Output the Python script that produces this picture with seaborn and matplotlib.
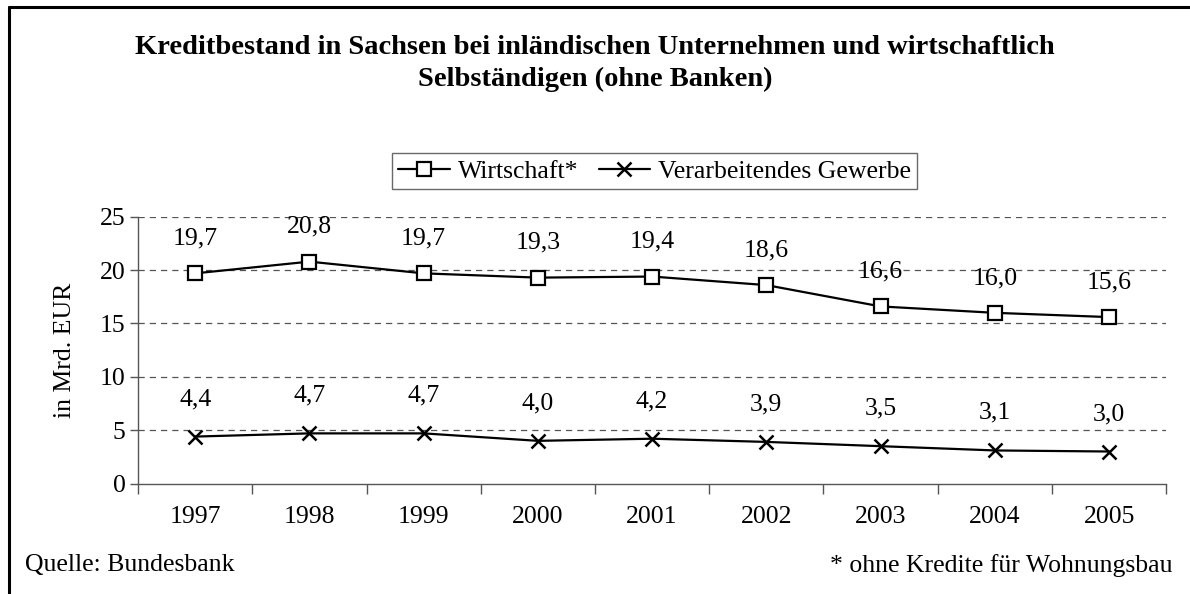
import numpy as np
import pandas as pd
import seaborn as sns
from matplotlib import pyplot as plt
from matplotlib.lines import Line2D

# data
years = ["1997", "1998", "1999", "2000", "2001", "2002", "2003", "2004", "2005"]
wirtschaft = [19.7, 20.8, 19.7, 19.3, 19.4, 18.6, 16.6, 16.0, 15.6]
gewerbe = [4.4, 4.7, 4.7, 4.0, 4.2, 3.9, 3.5, 3.1, 3.0]

FS = 18.5

sns.set_theme(style="white")
plt.rcParams['font.family'] = ['Liberation Serif', 'DejaVu Serif']
plt.rcParams['font.size'] = FS
plt.rcParams['text.color'] = 'black'
plt.rcParams['axes.labelcolor'] = 'black'

df = pd.DataFrame({"Jahr": years, "Wirtschaft*": wirtschaft,
                   "Verarbeitendes Gewerbe": gewerbe})

fig = plt.figure(figsize=(11.9, 5.94), dpi=100)
ax = fig.add_axes([0.116, 0.186, 0.864, 0.449])

sns.lineplot(data=df, x="Jahr", y="Wirtschaft*", ax=ax, color="black", lw=1.6,
             marker="s", markersize=10.5, markerfacecolor="white",
             markeredgecolor="black", markeredgewidth=1.6, label="Wirtschaft*")
sns.lineplot(data=df, x="Jahr", y="Verarbeitendes Gewerbe", ax=ax, color="black",
             lw=1.6, marker="x", markersize=10, markeredgecolor="black",
             markeredgewidth=1.8, label="Verarbeitendes Gewerbe")

# value labels
for i, v in enumerate(wirtschaft):
    ax.annotate(f"{v:.1f}".replace(".", ","), (i, v), xytext=(0, 25),
                textcoords="offset points", ha="center", va="center", fontsize=FS)
for i, v in enumerate(gewerbe):
    ax.annotate(f"{v:.1f}".replace(".", ","), (i, v), xytext=(0, 27),
                textcoords="offset points", ha="center", va="center", fontsize=FS)

# axes
ax.set_xlim(-0.5, len(years) - 0.5)
ax.set_ylim(0, 25)
ax.set_yticks([0, 5, 10, 15, 20, 25])
ax.set_xticks(np.arange(-0.5, len(years)), labels=[""] * (len(years) + 1))
ax.set_xticks(np.arange(len(years)), labels=years, minor=True)
ax.tick_params(axis="x", which="major", length=7, width=1, color="#555555", direction="out", bottom=True)
ax.tick_params(axis="x", which="minor", length=0, pad=16, labelsize=FS, labelcolor="black")
ax.tick_params(axis="y", length=6, width=1, color="#555555", left=True, labelsize=FS,
               labelcolor="black", pad=3)
for y in [5, 10, 15, 20, 25]:
    ax.axhline(y, color="#555555", lw=0.9, ls=(0, (5, 4)), zorder=0)
for s in ["top", "right"]:
    ax.spines[s].set_visible(False)
for s in ["left", "bottom"]:
    ax.spines[s].set_color("#555555")
    ax.spines[s].set_linewidth(1)
ax.set_xlabel("")
ax.set_ylabel("in Mrd. EUR", fontsize=FS, labelpad=17)

leg = ax.legend(loc="center", bbox_to_anchor=(0.55, 0.712), bbox_transform=fig.transFigure,
                ncol=2, frameon=True, fancybox=False, handlelength=2.0,
                handletextpad=0.3, columnspacing=0.8, borderpad=0.25, fontsize=FS)
leg.get_frame().set_edgecolor("#444444")
leg.get_frame().set_linewidth(1)

fig.text(0.5, 0.893, "Kreditbestand in Sachsen bei inländischen Unternehmen und wirtschaftlich\nSelbständigen (ohne Banken)",
         ha="center", va="center", fontsize=20.5, fontweight="bold", linespacing=1.4)
fig.text(0.021, 0.048, "Quelle: Bundesbank", ha="left", va="center", fontsize=FS)
fig.text(0.985, 0.048, "* ohne Kredite für Wohnungsbau", ha="right", va="center", fontsize=FS)

# outer frame (left and top edges visible)
fig.add_artist(Line2D([0.0072, 0.0072], [0.0, 0.988], color="black", lw=2.2, transform=fig.transFigure))
fig.add_artist(Line2D([0.0072, 1.0], [0.988, 0.988], color="black", lw=2.2, transform=fig.transFigure))

fig.savefig("out.png", dpi=100)
